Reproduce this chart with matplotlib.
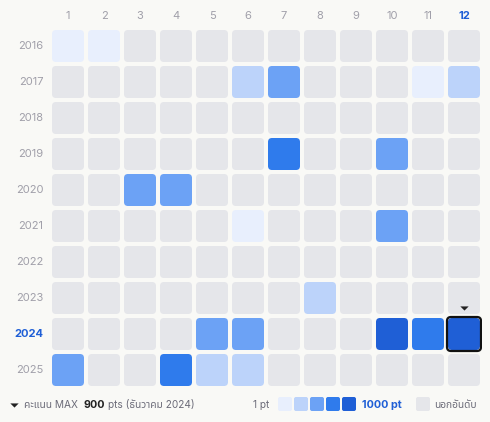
import matplotlib
matplotlib.use("Agg")
import matplotlib.pyplot as plt
from matplotlib.patches import FancyBboxPatch

plt.rcParams['font.family'] = ['Inter', 'Noto Sans Thai', 'DejaVu Sans']

# data: colour level (0 = not ranked, 1..5 = score bucket) per year/month
years = [2016, 2017, 2018, 2019, 2020, 2021, 2022, 2023, 2024, 2025]
months = list(range(1, 13))
levels = [
    [1, 1, 0, 0, 0, 0, 0, 0, 0, 0, 0, 0],  # 2016
    [0, 0, 0, 0, 0, 2, 3, 0, 0, 0, 1, 2],  # 2017
    [0, 0, 0, 0, 0, 0, 0, 0, 0, 0, 0, 0],  # 2018
    [0, 0, 0, 0, 0, 0, 4, 0, 0, 3, 0, 0],  # 2019
    [0, 0, 3, 3, 0, 0, 0, 0, 0, 0, 0, 0],  # 2020
    [0, 0, 0, 0, 0, 1, 0, 0, 0, 3, 0, 0],  # 2021
    [0, 0, 0, 0, 0, 0, 0, 0, 0, 0, 0, 0],  # 2022
    [0, 0, 0, 0, 0, 0, 0, 2, 0, 0, 0, 0],  # 2023
    [0, 0, 0, 0, 3, 3, 0, 0, 0, 5, 4, 5],  # 2024
    [3, 0, 0, 4, 2, 2, 0, 0, 0, 0, 0, 0],  # 2025
]
max_year, max_month = 2024, 12
max_pts = 900

palette = ['#e5e6ea', '#e8effd', '#bcd3fa', '#6ca2f5', '#2f7bec', '#1f5fd6']
bg = '#f9f9f6'
blue = '#1f5fd6'
label_gray = '#a09fa9'

fig = plt.figure(figsize=(4.9, 4.22), dpi=100, facecolor=bg)
W, H = 490, 422

# grid axes: 36 px per cell
ax = fig.add_axes([50 / W, (H - 388) / H, 432 / W, 360 / H])
ax.set_facecolor(bg)
ax.set_xlim(0.5, 12.5)
ax.set_ylim(years[-1] + 0.5, years[0] - 0.5)
ax.axis('off')

size = 32 / 36
pad = 4 / 36
for yr, row in zip(years, levels):
    for m, lv in zip(months, row):
        box = FancyBboxPatch((m - size / 2 + pad, yr - size / 2 + pad),
                             size - 2 * pad, size - 2 * pad,
                             boxstyle='round,pad=%f' % pad,
                             fc=palette[lv], ec='none')
        ax.add_patch(box)

# highlight the max month
hs = size + 2 / 36
ax.add_patch(FancyBboxPatch((max_month - hs / 2 + pad, max_year - hs / 2 + pad),
                            hs - 2 * pad, hs - 2 * pad,
                            boxstyle='round,pad=%f' % pad,
                            fc='none', ec='#111111', lw=1.6, zorder=5))
tri = [(-1, 0.5), (1, 0.5), (0, -0.5), (-1, 0.5)]
ax.plot([max_month], [max_year - 0.5 - 0.22], marker=tri, ms=6,
        color='#222222', mew=0, clip_on=False, zorder=6)

# month labels (top) and year labels (left)
for m in months:
    hl = m == max_month
    ax.text(m, years[0] - 0.5 - 0.33, str(m), ha='center', va='center',
            fontsize=8, color=blue if hl else label_gray,
            fontweight='bold' if hl else 'normal')
for yr in years:
    hl = yr == max_year
    ax.text(0.5 - 0.19, yr, str(yr), ha='right', va='center',
            fontsize=8, color=blue if hl else label_gray,
            fontweight='bold' if hl else 'normal')

# bottom legend
ty = 1 - 405 / H
txt = '#6b6b78'
lax = fig.add_axes([0, 0, 1, 1])
lax.set_xlim(0, W)
lax.set_ylim(H, 0)
lax.axis('off')
lax.patch.set_alpha(0)
lax.plot([13.5], [405], marker=tri, ms=6, color='#222222', mew=0)
fig.text(24 / W, ty, 'คะแนน MAX', fontsize=7.3, color=txt, va='center')
fig.text(83 / W, ty, str(max_pts), fontsize=7.8, color='#222222',
         fontweight='bold', va='center')
fig.text(108 / W, ty, 'pts (ธันวาคม 2024)', fontsize=7.3, color=txt, va='center')

fig.text(253 / W, ty, '1 pt', fontsize=7.3, color=txt, va='center')
for i, c in enumerate(palette[1:]):
    x0 = 278 + 16 * i
    lax.add_patch(FancyBboxPatch((x0 + 2, 399), 10, 10, boxstyle='round,pad=2',
                                 fc=c, ec='none'))
fig.text(362 / W, ty, '1000 pt', fontsize=7.8, color=blue, fontweight='bold', va='center')
lax.add_patch(FancyBboxPatch((418, 399), 10, 10, boxstyle='round,pad=2',
                             fc=palette[0], ec='none'))
fig.text(434 / W, ty, 'นอกอันดับ', fontsize=7.3, color=txt, va='center')

fig.savefig('out.png', dpi=100, facecolor=bg)
